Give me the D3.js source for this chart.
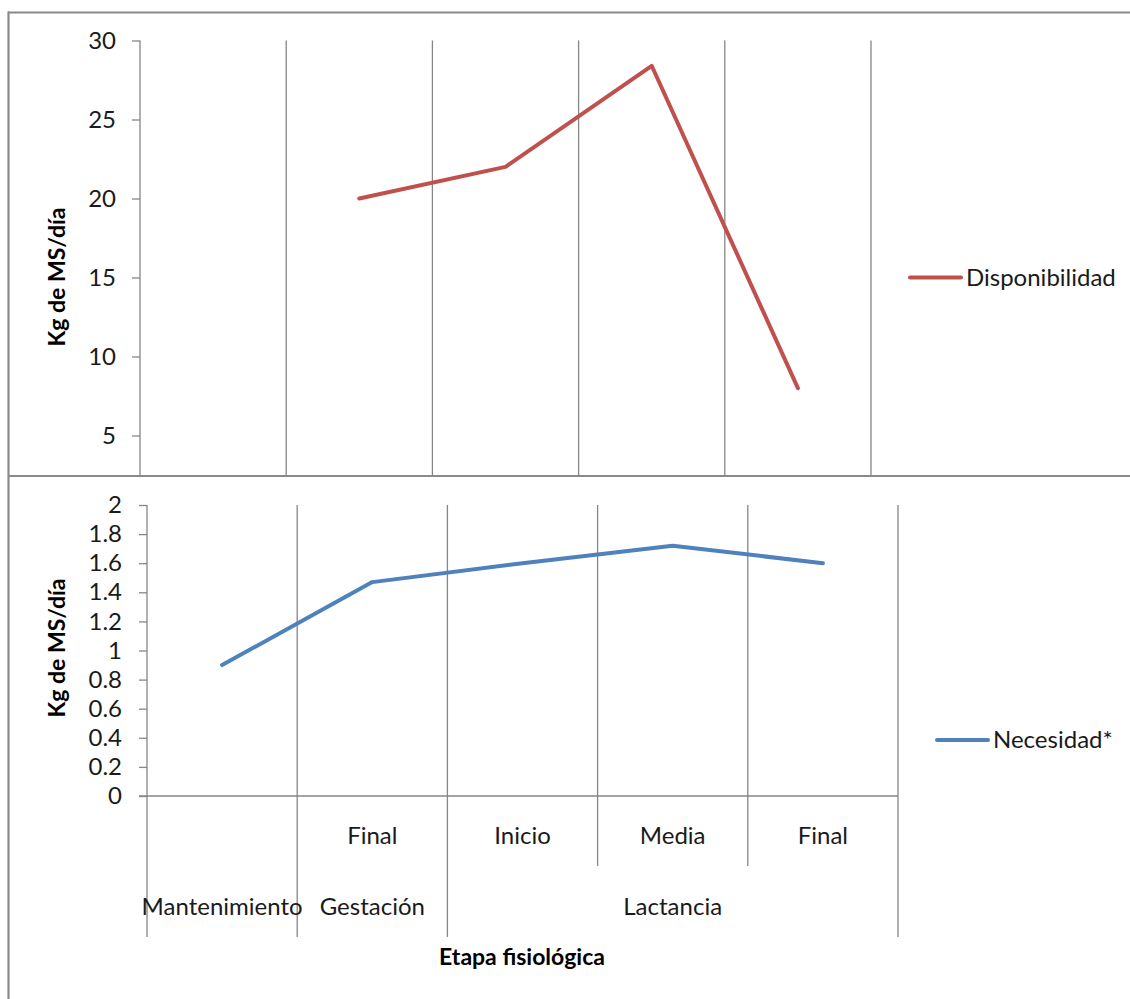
<!DOCTYPE html>
<html><head><meta charset="utf-8">
<script src="https://cdn.jsdelivr.net/npm/d3@7"></script>
<style>
html,body{margin:0;padding:0;background:#fff;}
svg{display:block;font-family:Lato,"Open Sans",sans-serif;}
</style></head>
<body>
<svg id="chart" width="1130" height="999"></svg>
<script>
// ---- data ----
const stages = ["", "Final", "Inicio", "Media", "Final"];
const groups = ["Mantenimiento", "Gestación", "Lactancia"];
const groupSpans = [1, 1, 3];
const disponibilidad = [null, 20, 22, 28.4, 8];
const necesidad = [0.9, 1.47, 1.6, 1.72, 1.6];
const topTicks = [5, 10, 15, 20, 25, 30];
const bottomTicks = [0, 0.2, 0.4, 0.6, 0.8, 1, 1.2, 1.4, 1.6, 1.8, 2];
const yTitle = "Kg de MS/día";
const xTitle = "Etapa fisiológica";
const seriesNames = ["Disponibilidad", "Necesidad*"];

(function () {
const svg = d3.select("#chart");
const grid = "#868686";
const tickFont = 24;
const titleFont = 23;
const txt = "#1a1a1a";
const idx = d3.range(stages.length);

// ---------- TOP PANEL ----------
const xT = d3.scaleBand().domain(idx).range([140, 871]).padding(0);
const yT = d3.scaleLinear().domain([0, 30]).range([514.5, 40.5]);
svg.append("clipPath").attr("id", "clipTop").append("rect")
  .attr("x", 0).attr("y", 0).attr("width", 1130).attr("height", 476);
const topG = svg.append("g").attr("clip-path", "url(#clipTop)");

const topBounds = idx.map(i => xT(i)).concat([xT(idx[idx.length - 1]) + xT.bandwidth()]);
topG.selectAll("line.vg").data(topBounds).join("line")
  .attr("x1", d => d).attr("x2", d => d)
  .attr("y1", yT(30)).attr("y2", 476)
  .attr("stroke", grid).attr("stroke-width", 1.3);

const axT = topG.append("g").attr("transform", "translate(140,0)")
  .call(d3.axisLeft(yT).tickValues(topTicks).tickSize(8).tickPadding(16).tickFormat(d3.format("d")));
axT.attr("font-family", null);
axT.select(".domain").remove();
axT.selectAll(".tick line").attr("stroke", grid).attr("stroke-width", 1.3);
axT.selectAll(".tick text").attr("font-size", tickFont).attr("fill", txt);

topG.append("path")
  .datum(disponibilidad.map((v, i) => ({ i, v })))
  .attr("fill", "none").attr("stroke", "#C0504D").attr("stroke-width", 4)
  .attr("stroke-linejoin", "round").attr("stroke-linecap", "round")
  .attr("d", d3.line().defined(d => d.v != null)
    .x(d => xT(d.i) + xT.bandwidth() / 2).y(d => yT(d.v)));

svg.append("text").attr("transform", `translate(${65},${277}) rotate(-90)`)
  .attr("text-anchor", "middle").attr("font-weight", "bold").attr("font-size", titleFont)
  .attr("fill", "#000").text(yTitle);

svg.append("line").attr("x1", 910).attr("x2", 961).attr("y1", 277.5).attr("y2", 277.5)
  .attr("stroke", "#C0504D").attr("stroke-width", 4).attr("stroke-linecap", "round");
svg.append("text").attr("x", 966).attr("y", 277.5).attr("dy", "0.35em")
  .attr("font-size", tickFont).attr("fill", txt).text(seriesNames[0]);

// ---------- BOTTOM PANEL ----------
const xB = d3.scaleBand().domain(idx).range([147, 898]).padding(0);
const yB = d3.scaleLinear().domain([0, 2]).range([796, 505]);
const botG = svg.append("g");
const bBounds = idx.map(i => xB(i)).concat([xB(idx[idx.length - 1]) + xB.bandwidth()]);

const groupEdges = [0];
groupSpans.forEach(s => groupEdges.push(groupEdges[groupEdges.length - 1] + s));

botG.selectAll("line.vg").data(bBounds).join("line")
  .attr("x1", d => d).attr("x2", d => d)
  .attr("y1", yB(2))
  .attr("y2", (d, i) => groupEdges.includes(i) ? 937 : 866)
  .attr("stroke", grid).attr("stroke-width", 1.3);

const axB = botG.append("g").attr("transform", "translate(147,0)")
  .call(d3.axisLeft(yB).tickValues(bottomTicks).tickSize(8).tickPadding(17)
    .tickFormat(d => String(+d.toFixed(1))));
axB.attr("font-family", null);
axB.select(".domain").remove();
axB.selectAll(".tick line").attr("stroke", grid).attr("stroke-width", 1.3);
axB.selectAll(".tick text").attr("font-size", tickFont).attr("fill", txt);

botG.append("line").attr("x1", 139).attr("x2", 898)
  .attr("y1", yB(0)).attr("y2", yB(0)).attr("stroke", grid).attr("stroke-width", 1.3);

botG.selectAll("text.l1").data(idx).join("text")
  .attr("x", i => xB(i) + xB.bandwidth() / 2).attr("y", 836).attr("dy", "0.35em")
  .attr("text-anchor", "middle").attr("font-size", tickFont).attr("fill", txt)
  .text(i => stages[i]);

botG.selectAll("text.l2").data(groups).join("text")
  .attr("x", (g, j) => {
    const a = xB(groupEdges[j]);
    const b = xB(groupEdges[j + 1] - 1) + xB.bandwidth();
    return (a + b) / 2;
  })
  .attr("y", 907).attr("dy", "0.35em")
  .attr("text-anchor", "middle").attr("font-size", tickFont).attr("fill", txt)
  .text(g => g);

botG.append("path")
  .datum(necesidad.map((v, i) => ({ i, v })))
  .attr("fill", "none").attr("stroke", "#4F81BD").attr("stroke-width", 4)
  .attr("stroke-linejoin", "round").attr("stroke-linecap", "round")
  .attr("d", d3.line().x(d => xB(d.i) + xB.bandwidth() / 2).y(d => yB(d.v)));

svg.append("text").attr("transform", `translate(${65},${648}) rotate(-90)`)
  .attr("text-anchor", "middle").attr("font-weight", "bold").attr("font-size", titleFont)
  .attr("fill", "#000").text(yTitle);

svg.append("text").attr("x", 522).attr("y", 957).attr("dy", "0.35em")
  .attr("text-anchor", "middle").attr("font-weight", "bold").attr("font-size", titleFont)
  .attr("fill", "#000").text(xTitle);

svg.append("line").attr("x1", 937).attr("x2", 988).attr("y1", 740).attr("y2", 740)
  .attr("stroke", "#4F81BD").attr("stroke-width", 4).attr("stroke-linecap", "round");
svg.append("text").attr("x", 993).attr("y", 740).attr("dy", "0.35em")
  .attr("font-size", tickFont).attr("fill", txt).text(seriesNames[1]);

// ---------- borders ----------
const bc = "#8a8a8a";
svg.append("line").attr("x1", 8).attr("x2", 1130).attr("y1", 12.5).attr("y2", 12.5).attr("stroke", bc).attr("stroke-width", 2.2);
svg.append("line").attr("x1", 8).attr("x2", 1130).attr("y1", 476).attr("y2", 476).attr("stroke", bc).attr("stroke-width", 2.2);
svg.append("line").attr("x1", 8.5).attr("x2", 8.5).attr("y1", 11.5).attr("y2", 999).attr("stroke", bc).attr("stroke-width", 2.2);
})();
</script>
</body></html>
